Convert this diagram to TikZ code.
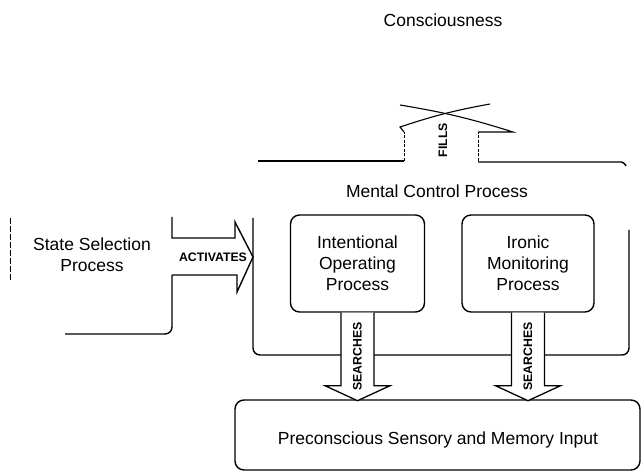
\documentclass[tikz,border=0pt]{standalone}
\usepackage{fontspec}
\setmainfont{Liberation Sans}
\usetikzlibrary{positioning}

\tikzset{
  proc/.style={draw, line width=1.4pt, rounded corners=9pt, align=center,
    minimum width=134pt, minimum height=97pt,
    font=\fontsize{17.5}{21}\selectfont},
  lbl/.style={align=center, font=\fontsize{17.5}{21}\selectfont},
  tag/.style={inner sep=0pt, font=\bfseries\fontsize{12.3}{13}\selectfont},
  outline/.style={line width=1.4pt},
  blockarrow/.style={line width=1.3pt, fill=white, line join=miter},
  gapline/.style={line width=0.8pt, dash pattern=on 3pt off 1.5pt}
}

\begin{document}
\begin{tikzpicture}[x=1pt, y=-1pt]
  \useasboundingbox (0,0) rectangle (641,473);

  \node[lbl] (conscious) at (443,20) {Consciousness};
  \node[lbl] (mental) at (437,191) {Mental Control Process};
  \node[lbl] (select) at (92,255) {State Selection\\Process};

  % mental control region, left open at the corners
  \draw[outline] (258,161) -- (404,161);
  \draw[outline, rounded corners=3pt] (478,162) -- (624,162) -- (626,166);
  \draw[outline, rounded corners=7pt] (253,218) -- (253,355) -- (629,355) -- (629,230);
  \draw[gapline] (404,161) -- (404,132);
  \draw[gapline] (478,161) -- (478,132);

  % fills arrow head, the two flanks cross over at the tip
  \draw[line width=1.1pt] (404,132) -- (400,127) to[bend left=4] (490,104);
  \draw[line width=1.1pt] (478,132) -- (513,132) to[bend right=4] (400,105);
  \node[tag, rotate=90] (fills) at (443,140) {FILLS};

  \node[proc] (intent) at (357.5,263.5) {Intentional\\Operating\\Process};
  \node[proc, minimum width=132pt] (ironic) at (528,263.5) {Ironic\\Monitoring\\Process};
  \node[proc, minimum width=405pt, minimum height=70pt] (precon) at (437.5,435) {};
  \node[lbl] at (438,440) {Preconscious Sensory and Memory Input};

  % activation arrow from the selection side
  \draw[outline, line join=miter] (172,217) -- (172,238) -- (235,238) -- (235,222)
    -- (253,257) -- (237,292) -- (237,275) -- (172,275);
  \draw[outline, rounded corners=7pt] (172,275) -- (172,334) -- (65,334);
  \node[tag] (activates) at (213,257) {ACTIVATES};
  \draw[line width=0.9pt, dash pattern=on 6pt off 2pt] (10,218) -- (10,281);

  % searches arrows down into the preconscious input
  \foreach \p in {intent, ironic} {
    \draw[blockarrow] ([xshift=-16.5pt]\p.south) -- ++(0,73) -- ++(-16,0)
      -- ++(32.5,15) -- ++(32.5,-15) -- ++(-16,0) -- ++(0,-73);
    \node[tag, rotate=90] at ([yshift=-44pt]\p.south) {SEARCHES};
  }
\end{tikzpicture}
\end{document}
